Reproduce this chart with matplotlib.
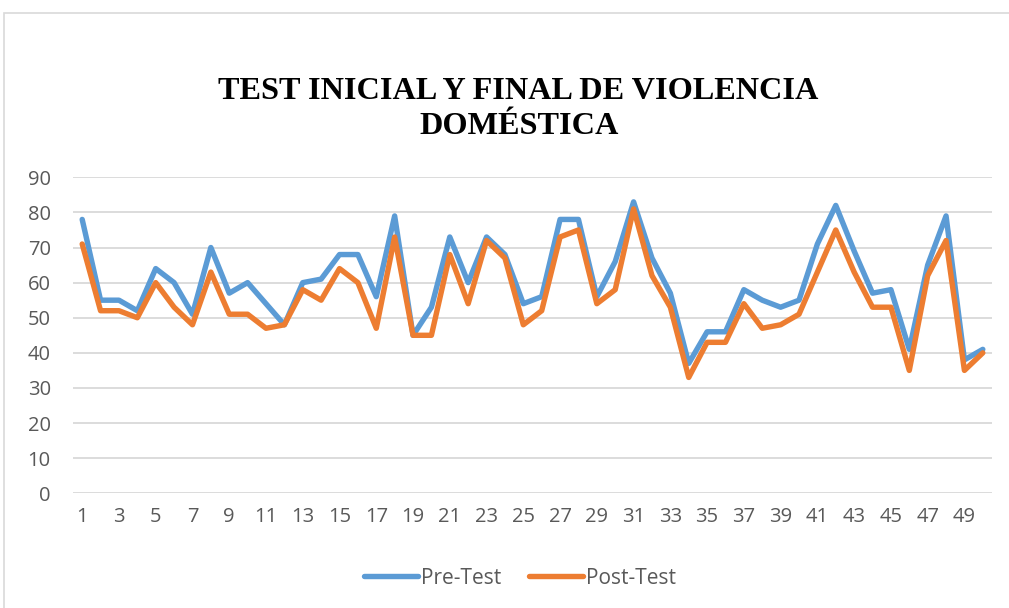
import matplotlib.pyplot as plt
from matplotlib.patches import Rectangle

# Data
students = list(range(1, 51))
pre_test = [78, 55, 55, 52, 64, 60, 51, 70, 57, 60,
            54, 48, 60, 61, 68, 68, 56, 79, 45, 53,
            73, 60, 73, 68, 54, 56, 78, 78, 56, 66,
            83, 67, 57, 37, 46, 46, 58, 55, 53, 55,
            71, 82, 69, 57, 58, 41, 65, 79, 38, 41]
post_test = [71, 52, 52, 50, 60, 53, 48, 63, 51, 51,
             47, 48, 58, 55, 64, 60, 47, 73, 45, 45,
             68, 54, 72, 67, 48, 52, 73, 75, 54, 58,
             81, 62, 53, 33, 43, 43, 54, 47, 48, 51,
             63, 75, 63, 53, 53, 35, 62, 72, 35, 40]
y_ticks = list(range(0, 100, 10))
x_ticks = list(range(1, 51, 2))

BLUE = "#5B9BD5"
ORANGE = "#ED7D31"
GRID = "#D9D9D9"
TEXT = "#595959"

fig = plt.figure(figsize=(10.09, 6.08), dpi=100)
fig.patches.append(Rectangle((4 / 1009, -0.1), 1.2, 1 - 13 / 608 + 0.1,
                             transform=fig.transFigure, fill=False,
                             edgecolor=GRID, linewidth=1.2))

ax = fig.add_axes([73 / 1009, 1 - 493.3 / 608, (992 - 73) / 1009, (493.3 - 177.3) / 608])
ax.plot(students, pre_test, color=BLUE, linewidth=3.9, label="Pre-Test",
        solid_joinstyle="round", solid_capstyle="round")
ax.plot(students, post_test, color=ORANGE, linewidth=3.9, label="Post-Test",
        solid_joinstyle="round", solid_capstyle="round")

ax.set_xlim(0.5, 50.5)
ax.set_ylim(0, 90)
ax.set_yticks(y_ticks)
ax.set_xticks(x_ticks)
ax.grid(axis="y", color=GRID, linewidth=1.3)
ax.set_axisbelow(True)
for s in ax.spines.values():
    s.set_visible(False)
ax.tick_params(axis="both", length=0, labelsize=14.5, labelcolor=TEXT)
ax.tick_params(axis="y", pad=16)
ax.tick_params(axis="x", pad=10)
for lbl in ax.get_xticklabels() + ax.get_yticklabels():
    lbl.set_family("Open Sans")

fig.text(0.514, 1 - 109 / 608, "TEST INICIAL Y FINAL DE VIOLENCIA\nDOMÉSTICA",
         ha="center", va="center", fontsize=23.2, fontweight="bold",
         family="Liberation Serif", linespacing=1.24)

leg = fig.legend(loc="center", bbox_to_anchor=(520 / 1009, 1 - 578 / 608), ncol=2,
                 frameon=False, handlelength=2.6, columnspacing=1.3,
                 handletextpad=0.15, prop={"family": "Open Sans", "size": 15})
for t in leg.get_texts():
    t.set_color(TEXT)

fig.savefig("out.png", dpi=100)
